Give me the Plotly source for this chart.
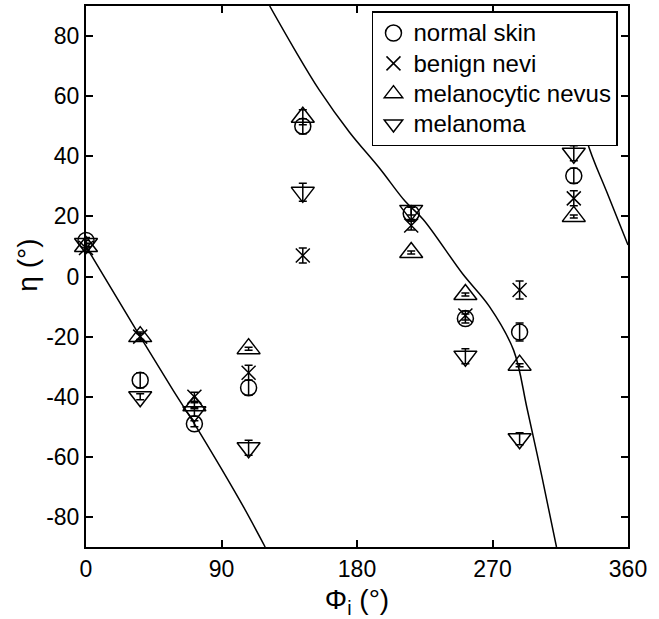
import plotly.graph_objects as go

# incidence azimuth (deg)
phi = [0, 36, 72, 108, 144, 216, 252, 288, 324]

# eta values (deg)
normal_skin = [12, -34.5, -49, -37, 50, 21, -14, -18.5, 33.5]
normal_err = [1, 2.5, 1, 2.5, 2.5, 2, 1.5, 3, 2.5]
benign_nevi = [9.5, -20, -40, -32, 7, 17, -13, -4.5, 26]
benign_err = [1.5, 1.5, 1.5, 2.5, 2.5, 1.5, 1.5, 3, 2.5]
melanocytic = [10, -20, -43, -24, 53, 8, -6, -29.5, 20]
melanocytic_err = [1, 1, 1, 0.5, 2.5, 0.5, 0.5, 0.5, 0.5]
melanoma = [11, -40, -45, -57, 28, 22, -26.5, -54, 41]
melanoma_err = [1, 1, 1.5, 2.5, 3, 1.5, 2.5, 2, 2.5]

# model curve branches
curve1_x = [0, 36, 58, 72, 90, 105, 119]
curve1_y = [10, -20, -38, -49, -64, -77, -90]
curve2_x = [122, 138, 155, 175, 195, 212, 224, 250, 268, 284, 293, 303, 312.5]
curve2_y = [90, 76, 62, 48, 36, 25, 19, 1, -10, -24.5, -44, -67, -90]
curve3_x = [318, 332.5, 346, 360]
curve3_y = [80, 45.4, 28, 10.5]

xticks = [0, 90, 180, 270, 360]
yticks = [-80, -60, -40, -20, 0, 20, 40, 60, 80]
yticklabels = ["-80", "-60", "-40", "-20", "0", "20", "40", "60", "80"]
x_title = "Φ<sub>i</sub> (°)"
y_title = "η (°)"

FONT = "Liberation Sans, Arial, sans-serif"
fig = go.Figure()

for cx, cy in [(curve1_x, curve1_y), (curve2_x, curve2_y), (curve3_x, curve3_y)]:
    fig.add_trace(go.Scatter(x=cx, y=cy, mode="lines", line=dict(color="black", width=1.5, shape="spline"),
                             showlegend=False, hoverinfo="skip"))

series = [
    ("normal skin", normal_skin, normal_err, "circle-open", 16),
    ("benign nevi", benign_nevi, benign_err, "x-thin-open", 14),
    ("melanocytic nevus", melanocytic, melanocytic_err, "triangle-up-open", 20),
    ("melanoma", melanoma, melanoma_err, "triangle-down-open", 20),
]
for name, ys, errs, sym, sz in series:
    fig.add_trace(go.Scatter(
        x=phi, y=ys, mode="markers", cliponaxis=False,
        name='<span style="font-size:24px">' + name + '</span>',
        marker=dict(symbol=sym, size=sz, color="black", line=dict(color="black", width=1.5)),
        error_y=dict(type="data", array=errs, visible=True, color="black", thickness=1.5, width=4),
    ))

fig.update_layout(
    width=659, height=619,
    margin=dict(l=86, r=31, t=6, b=72),
    plot_bgcolor="white", paper_bgcolor="white",
    font=dict(family=FONT, size=23, color="black"),
    legend=dict(x=0.9815, xanchor="right", y=0.99, yanchor="top",
                bgcolor="white", bordercolor="black", borderwidth=1.5,
                font=dict(size=21), itemsizing="trace", tracegroupgap=0),
    showlegend=True,
    annotations=[
        dict(text=y_title, xref="paper", yref="paper", x=-0.107, y=0.52, textangle=-90,
             xanchor="center", yanchor="middle", showarrow=False,
             font=dict(family=FONT, size=28, color="black")),
    ],
)
fig.update_xaxes(range=[0, 360], tickvals=xticks, showgrid=False, zeroline=False,
                 showline=True, linecolor="black", linewidth=2, mirror="ticks",
                 ticks="inside", ticklen=7, tickwidth=1.5, tickcolor="black", automargin=False,
                 title=dict(text=x_title, font=dict(size=28)))
fig.update_yaxes(range=[-90, 90], tickvals=yticks, ticktext=yticklabels, showgrid=False, zeroline=False,
                 showline=True, linecolor="black", linewidth=2, mirror="ticks",
                 ticks="inside", ticklen=7, tickwidth=1.5, tickcolor="black", automargin=False)

fig.write_html("out.html")
